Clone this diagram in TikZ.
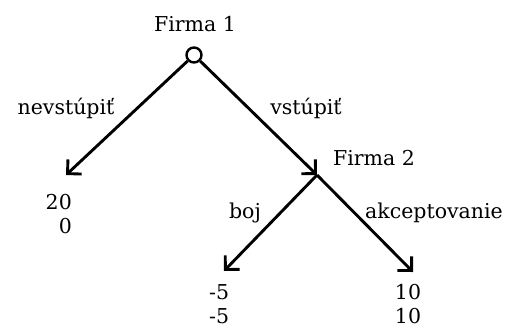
\documentclass[tikz,border=0pt]{standalone}
\usepackage{fontspec}
\setmainfont{DejaVu Serif}
\usetikzlibrary{arrows.meta}
\begin{document}
\begin{tikzpicture}[x=1pt,y=-1pt,
  lbl/.style={font=\fontsize{20.5}{25}\selectfont, inner sep=0pt},
  pay/.style={font=\fontsize{20.5}{24}\selectfont, inner sep=0pt},
  branch/.style={line width=2.9pt, -{Straight Barb[length=10pt,width=20pt,line width=2.9pt]}},
  decision/.style={circle, draw, line width=2.4pt, fill=white, minimum size=15pt, inner sep=0pt}]
\useasboundingbox (0,0) rectangle (511,330);
\node[decision] (root) at (194,55) {};
\node[lbl] (f1) at (195,24) {Firma 1};
\coordinate (n2) at (317,175);
\node[lbl] (f2) at (374,158) {Firma 2};
\coordinate (l1) at (66,175);
\coordinate (l2) at (224,271);
\coordinate (l3) at (413,272);
\draw[branch] (root) -- (l1);
\draw[branch] (root) -- (n2);
\draw[branch] (n2) -- (l2);
\draw[branch] (n2) -- (l3);
\node[lbl] (a1) at (66,108) {nevstúpiť};
\node[lbl] (a2) at (306,108) {vstúpiť};
\node[lbl] (a3) at (245,213) {boj};
\node[lbl] (a4) at (434,213) {akceptovanie};
\node[pay, align=right, anchor=east] (p1) at (72,214) {20\\0};
\node[pay, align=left, anchor=west] (p2) at (209,304) {-5\\-5};
\node[pay, align=center] (p3) at (408,304) {10\\10};
\end{tikzpicture}
\end{document}
